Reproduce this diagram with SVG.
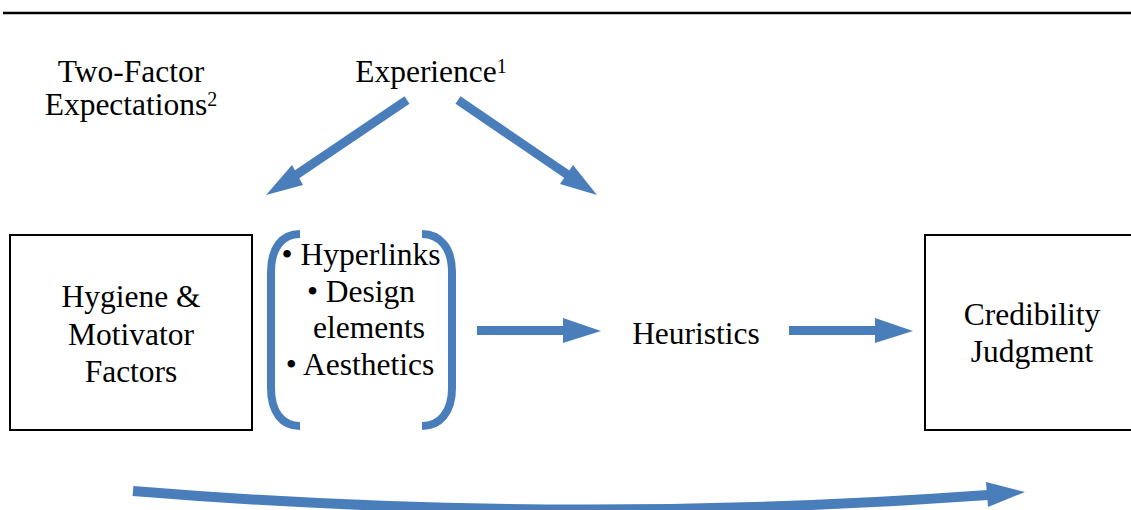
<svg xmlns="http://www.w3.org/2000/svg" width="1131" height="510" viewBox="0 0 1131 510">
<style>
text{font-family:"Liberation Serif","Times New Roman",serif;font-size:31.5px;fill:#000;text-anchor:middle}
.sup{font-size:20px}
.box{fill:#fff;stroke:#000;stroke-width:2}
.shaft{stroke:#4a7ebb;stroke-width:9;fill:none;stroke-linecap:butt}
.head{fill:#4a7ebb}
.br{stroke:#4a7ebb;stroke-width:8;fill:none}
</style>
<line x1="3" y1="13" x2="1131" y2="13" stroke="#000" stroke-width="2.5"/>
<g id="two-factor">
<text x="131" y="82">Two-Factor</text>
<text x="131" y="115">Expectations<tspan class="sup" dy="-9">2</tspan></text>
</g>
<g id="experience">
<text x="431" y="82">Experience<tspan class="sup" dy="-9">1</tspan></text>
</g>
<g id="hygiene">
<rect class="box" x="10" y="235" width="242" height="195"/>
<text x="131" y="307">Hygiene &amp;</text>
<text x="131" y="344.5">Motivator</text>
<text x="131" y="382">Factors</text>
</g>
<g id="elements">
<path class="br" d="M300,234 C282,234 271,248 271,272 L271,388 C271,412 282,426 300,426"/>
<path class="br" d="M422,234 C440,234 452,248 452,272 L452,388 C452,412 440,426 422,426"/>
<text x="361" y="265">• Hyperlinks</text>
<text x="361" y="302">• Design</text>
<text x="369" y="338">elements</text>
<text x="360" y="375">• Aesthetics</text>
</g>
<g id="heuristics">
<text x="696" y="344">Heuristics</text>
</g>
<g id="credibility">
<rect class="box" x="925" y="235" width="210" height="195"/>
<text x="1032" y="325">Credibility</text>
<text x="1032" y="362">Judgment</text>
</g>
<g id="connectors">
<line class="shaft" x1="407" y1="100" x2="296" y2="175"/>
<polygon class="head" points="266,195 292,165 303,185"/>
<line class="shaft" x1="458" y1="100" x2="568" y2="175"/>
<polygon class="head" points="597,195 573,165 560,184"/>
<line class="shaft" x1="477" y1="330.5" x2="564" y2="330.5"/>
<polygon class="head" points="563,318 601,331 563,343"/>
<line class="shaft" x1="789" y1="330.5" x2="876" y2="330.5"/>
<polygon class="head" points="875,318 913,331 875,343"/>
<path class="shaft" style="stroke-width:10" d="M133,491 Q560,526 988,495"/>
<polygon class="head" points="986,482 1025,492 988,507"/>
</g>
</svg>
